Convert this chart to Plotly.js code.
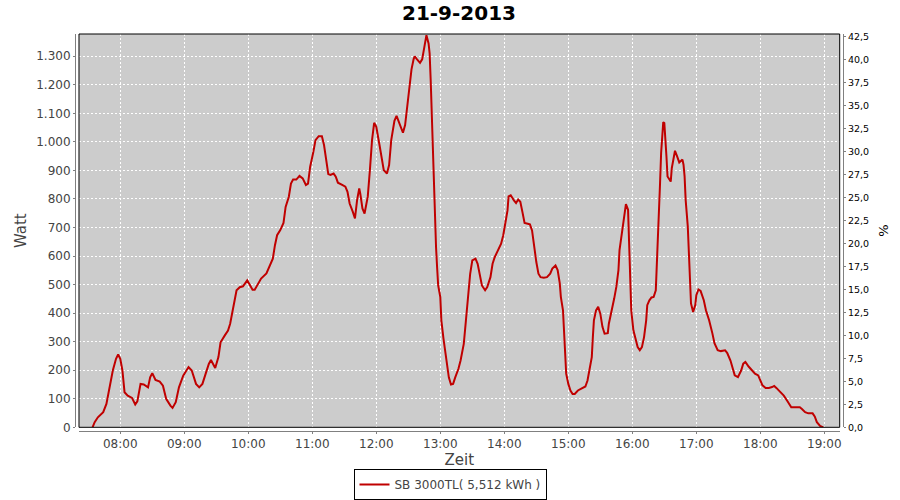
<!DOCTYPE html>
<html>
<head>
<meta charset="utf-8">
<script src="https://cdn.plot.ly/plotly-3.0.1.min.js"></script>
<style>html,body{margin:0;padding:0;background:#fff;}#chart{width:900px;height:500px;}</style>
</head>
<body>
<div id="chart"></div>
<script>
const DAY = '2013-09-21 ';
const times = ['07:34','07:36','07:39','07:44','07:47','07:50','07:53','07:56','07:58','08:00','08:02','08:04','08:07','08:11','08:14','08:16','08:19','08:22','08:26','08:28','08:30','08:33','08:37','08:40','08:43','08:47','08:49','08:52','08:55','08:59','09:04','09:07','09:11','09:14','09:17','09:20','09:23','09:25','09:27','09:29','09:32','09:34','09:38','09:41','09:43','09:46','09:49','09:52','09:55','09:59','10:02','10:04','10:06','10:09','10:12','10:17','10:20','10:23','10:25','10:27','10:30','10:33','10:35','10:38','10:40','10:42','10:45','10:48','10:51','10:54','10:56','10:58','11:01','11:03','11:06','11:09','11:11','11:13','11:15','11:17','11:20','11:22','11:24','11:28','11:31','11:33','11:35','11:38','11:40','11:42','11:44','11:45','11:47','11:49','11:52','11:54','11:56','11:58','12:00','12:03','12:05','12:07','12:10','12:12','12:14','12:17','12:19','12:22','12:25','12:27','12:29','12:31','12:33','12:35','12:36','12:38','12:41','12:43','12:46','12:47','12:49','12:50','12:51','12:52','12:53','12:54','12:55','12:56','12:57','12:58','13:00','13:01','13:03','13:05','13:07','13:08','13:10','13:12','13:14','13:17','13:19','13:22','13:24','13:26','13:28','13:30','13:33','13:35','13:37','13:39','13:42','13:44','13:47','13:49','13:51','13:54','13:57','13:59','14:01','14:03','14:04','14:06','14:09','14:11','14:13','14:15','14:17','14:19','14:22','14:24','14:26','14:28','14:30','14:32','14:34','14:37','14:40','14:43','14:45','14:48','14:50','14:52','14:53','14:55','14:56','14:57','14:58','15:00','15:02','15:04','15:06','15:09','15:12','15:16','15:18','15:20','15:22','15:23','15:24','15:26','15:28','15:30','15:32','15:34','15:37','15:38','15:41','15:43','15:45','15:47','15:48','15:50','15:52','15:53','15:54','15:56','15:57','15:58','15:59','16:01','16:03','16:05','16:07','16:09','16:11','16:13','16:14','16:16','16:18','16:20','16:22','16:23','16:24','16:25','16:26','16:27','16:28','16:29','16:30','16:31','16:32','16:33','16:36','16:37','16:39','16:40','16:42','16:44','16:47','16:48','16:49','16:50','16:52','16:53','16:54','16:55','16:57','16:59','17:00','17:02','17:04','17:07','17:09','17:12','17:15','17:17','17:20','17:23','17:27','17:29','17:32','17:34','17:36','17:39','17:42','17:44','17:46','17:49','17:52','17:55','17:58','18:00','18:02','18:05','18:08','18:11','18:13','18:15','18:19','18:22','18:25','18:27','18:29','18:33','18:37','18:39','18:42','18:45','18:49','18:51','18:53','18:56','18:59'];
const watt = [0,18,35,53,82,146,199,240,255,240,199,123,111,103,80,91,152,150,140,175,190,166,160,146,100,76,68,88,140,181,211,199,152,140,152,187,222,236,220,208,246,298,322,339,363,421,480,491,494,515,497,482,482,503,521,539,562,591,638,673,691,716,772,808,854,868,868,881,872,849,854,913,965,1006,1020,1020,989,936,887,884,889,878,857,849,843,825,784,755,732,796,837,819,767,749,808,901,1006,1067,1053,989,936,901,889,919,1006,1074,1091,1063,1032,1059,1123,1199,1254,1290,1300,1290,1277,1289,1345,1374,1345,1310,1216,1088,959,842,725,632,561,497,456,374,310,257,211,175,150,152,175,205,234,292,374,468,538,585,591,573,538,497,480,491,526,573,596,620,643,673,713,760,809,813,795,786,798,790,754,716,713,711,690,632,579,538,526,524,526,538,556,567,551,504,457,410,328,246,188,152,129,117,117,129,135,143,164,199,246,316,375,410,422,398,352,328,330,363,410,451,492,551,621,680,738,773,782,762,645,492,410,340,305,281,270,281,316,375,428,445,455,457,480,563,645,738,855,961,1031,1069,1066,1020,949,879,861,908,955,969,949,928,938,920,879,797,703,598,504,434,404,428,463,483,478,445,410,375,330,295,270,267,270,260,234,205,182,176,199,223,229,213,199,188,182,164,147,138,138,141,145,138,123,111,94,80,70,70,70,64,53,49,49,38,18,5,0];
const seriesName = 'SB 3000TL( 5,512 kWh )';
const chartTitle = '21-9-2013';
const xTitle = 'Zeit';
const yTitle = 'Watt';
const y2Title = '%';

const x = times.map(t => DAY + t);
const axisFont = {family: 'DejaVu Sans', size: 12, color: '#444444'};
const gridStyle = {showgrid: true, gridcolor: '#ffffff', gridwidth: 1, griddash: '2px,2px'};

const traces = [
  {x: x, y: watt, type: 'scatter', mode: 'lines', name: seriesName,
   line: {color: '#c00000', width: 2}, showlegend: true},
  {x: [x[0]], y: [0], type: 'scatter', mode: 'lines', yaxis: 'y2',
   line: {width: 0}, showlegend: false, hoverinfo: 'skip'}
];

const layout = {
  width: 900, height: 500,
  margin: {l: 75, r: 57, t: 34, b: 69, pad: 0, autoexpand: false},
  paper_bgcolor: '#ffffff',
  plot_bgcolor: '#cccccc',
  separators: ',.',
  showlegend: true,
  title: {text: chartTitle, font: {family: 'DejaVu Sans', size: 20, color: '#000000', weight: 'bold'},
          x: 0.5, xanchor: 'center', y: 0.974, yanchor: 'middle', xref: 'paper'},
  xaxis: Object.assign({
    type: 'date', domain: [0.0052, 0.9957], anchor: 'free', position: 0,
    range: [DAY + '07:21:18', DAY + '19:14:24'],
    tick0: DAY + '08:00', dtick: 3600000, tickformat: '%H:%M',
    showline: true, linecolor: '#808080', linewidth: 1,
    ticks: 'outside', ticklen: 2, tickcolor: '#808080',
    tickfont: axisFont, zeroline: false, automargin: false,
    title: {text: xTitle, font: {family: 'DejaVu Sans', size: 15, color: '#444444'}, standoff: 8}
  }, gridStyle),
  yaxis: Object.assign({
    domain: [0.0093, 1], anchor: 'free', position: 0,
    range: [0, 1378], dtick: 100, tick0: 0, tickformat: ',d',
    showline: true, linecolor: '#808080', linewidth: 1,
    ticks: 'outside', ticklen: 2, tickcolor: '#808080',
    tickfont: axisFont, zeroline: false, automargin: false,
    title: {text: yTitle, font: {family: 'DejaVu Sans', size: 15, color: '#444444'}, standoff: 4}
  }, gridStyle),
  yaxis2: {
    domain: [0.0093, 1], anchor: 'free', position: 1, overlaying: 'y', side: 'right',
    range: [0, 42.8], dtick: 2.5, tick0: 0, tickformat: '.1f',
    showgrid: false, zeroline: false, automargin: false,
    showline: true, linecolor: '#808080', linewidth: 1,
    ticks: 'outside', ticklen: 2, tickcolor: '#808080',
    tickfont: {family: 'DejaVu Sans', size: 9.5, color: '#000000'},
    title: {text: y2Title, font: {family: 'DejaVu Sans', size: 13, color: '#000000'}, standoff: 10}
  },
  shapes: [
    {type: 'rect', xref: 'x domain', yref: 'y domain', x0: 0, x1: 1, y0: 0, y1: 1,
     line: {color: '#000000', width: 1}, fillcolor: 'rgba(0,0,0,0)', layer: 'above'}
  ],
  legend: {
    orientation: 'h', xref: 'container', yref: 'container',
    x: 0.5, xanchor: 'center', y: 0.0, yanchor: 'bottom',
    bgcolor: '#ffffff', bordercolor: '#000000', borderwidth: 1,
    font: {family: 'DejaVu Sans', size: 12, color: '#444444'}
  }
};

Plotly.newPlot('chart', traces, layout, {displayModeBar: false, staticPlot: true});
</script>
</body>
</html>
